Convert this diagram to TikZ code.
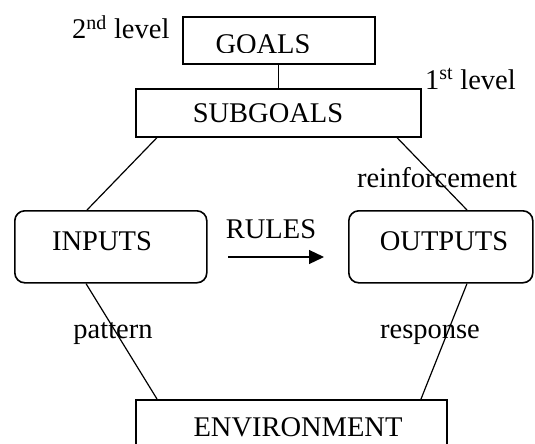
\documentclass[tikz,border=0pt]{standalone}
\usepackage{fontspec}
\setmainfont{Liberation Serif}
\usetikzlibrary{arrows.meta,calc}
\begin{document}
\begin{tikzpicture}[x=1pt,y=-1pt,
  box/.style={draw,line width=1.6pt,inner sep=0pt,anchor=north west},
  rbox/.style={box,rounded corners=10pt},
  lbl/.style={anchor=base,inner sep=0pt,font=\fontsize{28.5}{34}\selectfont},
  link/.style={line width=1.2pt}]
\useasboundingbox (0,0) rectangle (535,444);

% boxes
\node[box,minimum width=192pt,minimum height=47pt] (goals) at (182,16) {};
\node[box,minimum width=285pt,minimum height=48pt] (subgoals) at (135,88) {};
\node[rbox,minimum width=192pt,minimum height=72pt] (inputs) at (14,210) {};
\node[rbox,minimum width=184pt,minimum height=72pt] (outputs) at (348,210) {};
\node[box,minimum width=311pt,minimum height=72pt] (env) at (135,399) {};

% box captions (the GOALS caption is cut off at its foot)
\begin{scope}
  \clip (goals.north west) rectangle (374,52.5);
  \node[lbl] (goalstext) at (263,54) {GOALS};
\end{scope}
\node[lbl] (subtext) at (268,122) {SUBGOALS};
\node[lbl] (intext) at (102,250) {INPUTS};
\node[lbl] (outtext) at (444,250) {OUTPUTS};
\node[lbl] (envtext) at (298,436) {ENVIRONMENT};

% side labels
\node[lbl,anchor=base west] (lvl2) at (72,39) {2\textsuperscript{nd} level};
\node[lbl,anchor=base west] (lvl1) at (425,89) {1\textsuperscript{st} level};
\node[lbl] (rules) at (271,238) {RULES};
\node[lbl] (reinf) at (437,187) {reinforcement};
\node[lbl] (pattern) at (113,338) {pattern};
\node[lbl] (response) at (430,338) {response};

% connectors
\draw[link] (goals.south) -- (goals.south |- subgoals.north);
\draw[link] ($(subgoals.south west)+(22,0)$) -- ($(inputs.north west)+(73,0)$);
\draw[link] ($(subgoals.south west)+(262,0)$) -- ($(outputs.north west)+(119,0)$);
\draw[link] ($(inputs.south west)+(72,0)$) -- ($(env.north west)+(22,0)$);
\draw[link] ($(outputs.south west)+(119,0)$) -- ($(env.north west)+(286,0)$);

\coordinate (rs) at (228,257);
\coordinate (re) at (324,257);
\draw[link,-{Triangle[length=15pt,width=14pt]}] (rs) -- (re);
\end{tikzpicture}
\end{document}
